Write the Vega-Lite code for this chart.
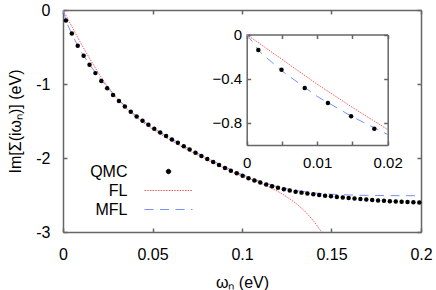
{
  "$schema": "https://vega.github.io/schema/vega-lite/v6.json",
  "width": 358,
  "height": 222,
  "autosize": "none",
  "padding": {"left": 63, "top": 10, "right": 15, "bottom": 58},
  "config": {
    "font": "Liberation Sans",
    "view": {"stroke": null},
    "axis": {
      "grid": false,
      "domainColor": "#666666",
      "domainWidth": 1.5,
      "tickColor": "#666666",
      "tickWidth": 1.5,
      "tickSize": -4,
      "labelFontSize": 16,
      "labelColor": "#000000",
      "titleFontSize": 16,
      "titleFontWeight": "normal",
      "titleColor": "#000000",
      "labelFlush": false,
      "labelOverlap": false
    }
  },
  "datasets": {
    "qmc": [
      {"w": 0.00165, "v": -0.141}, {"w": 0.00494, "v": -0.319}, {"w": 0.00823, "v": -0.484},
      {"w": 0.01152, "v": -0.619}, {"w": 0.01481, "v": -0.739}, {"w": 0.0181, "v": -0.853},
      {"w": 0.02139, "v": -0.96}, {"w": 0.02468, "v": -1.058}, {"w": 0.02797, "v": -1.148},
      {"w": 0.03126, "v": -1.23}, {"w": 0.03455, "v": -1.305}, {"w": 0.03784, "v": -1.374},
      {"w": 0.04113, "v": -1.438}, {"w": 0.04442, "v": -1.497}, {"w": 0.04771, "v": -1.552},
      {"w": 0.051, "v": -1.604}, {"w": 0.05429, "v": -1.654}, {"w": 0.05758, "v": -1.702},
      {"w": 0.06087, "v": -1.749}, {"w": 0.06416, "v": -1.795}, {"w": 0.06745, "v": -1.84},
      {"w": 0.07074, "v": -1.885}, {"w": 0.07403, "v": -1.929}, {"w": 0.07732, "v": -1.972},
      {"w": 0.08061, "v": -2.014}, {"w": 0.0839, "v": -2.055}, {"w": 0.08719, "v": -2.095},
      {"w": 0.09048, "v": -2.134}, {"w": 0.09377, "v": -2.171}, {"w": 0.09706, "v": -2.207},
      {"w": 0.10035, "v": -2.241}, {"w": 0.10364, "v": -2.273}, {"w": 0.10693, "v": -2.303},
      {"w": 0.11022, "v": -2.331}, {"w": 0.11351, "v": -2.357}, {"w": 0.1168, "v": -2.381},
      {"w": 0.12009, "v": -2.403}, {"w": 0.12338, "v": -2.423}, {"w": 0.12667, "v": -2.44},
      {"w": 0.12996, "v": -2.455}, {"w": 0.13325, "v": -2.468}, {"w": 0.13654, "v": -2.48},
      {"w": 0.13983, "v": -2.491}, {"w": 0.14312, "v": -2.501}, {"w": 0.14641, "v": -2.51},
      {"w": 0.1497, "v": -2.518}, {"w": 0.15299, "v": -2.526}, {"w": 0.15628, "v": -2.534},
      {"w": 0.15957, "v": -2.541}, {"w": 0.16286, "v": -2.548}, {"w": 0.16615, "v": -2.555},
      {"w": 0.16944, "v": -2.561}, {"w": 0.17273, "v": -2.567}, {"w": 0.17602, "v": -2.573},
      {"w": 0.17931, "v": -2.578}, {"w": 0.1826, "v": -2.583}, {"w": 0.18589, "v": -2.587},
      {"w": 0.18918, "v": -2.591}, {"w": 0.19247, "v": -2.595}, {"w": 0.19576, "v": -2.598},
      {"w": 0.19905, "v": -2.601}
    ],
    "fl": [
      {"w": 0, "v": 0}, {"w": 0.005, "v": -0.225}, {"w": 0.01, "v": -0.45}, {"w": 0.015, "v": -0.66},
      {"w": 0.02, "v": -0.86}, {"w": 0.025, "v": -1.035}, {"w": 0.03, "v": -1.19}, {"w": 0.035, "v": -1.32},
      {"w": 0.04, "v": -1.43}, {"w": 0.045, "v": -1.525}, {"w": 0.05, "v": -1.61}, {"w": 0.06, "v": -1.76},
      {"w": 0.07, "v": -1.895}, {"w": 0.08, "v": -2.02}, {"w": 0.09, "v": -2.135}, {"w": 0.1, "v": -2.245},
      {"w": 0.105, "v": -2.29}, {"w": 0.11, "v": -2.335}, {"w": 0.115, "v": -2.39}, {"w": 0.12, "v": -2.45},
      {"w": 0.125, "v": -2.525}, {"w": 0.13, "v": -2.61}, {"w": 0.135, "v": -2.715}, {"w": 0.14, "v": -2.85},
      {"w": 0.145, "v": -3.02}
    ],
    "mfl": [
      {"w": 0, "v": 0}, {"w": 0.002, "v": -0.165}, {"w": 0.005, "v": -0.33}, {"w": 0.01, "v": -0.56},
      {"w": 0.015, "v": -0.745}, {"w": 0.02, "v": -0.905}, {"w": 0.03, "v": -1.19}, {"w": 0.04, "v": -1.415},
      {"w": 0.05, "v": -1.59}, {"w": 0.06, "v": -1.735}, {"w": 0.07, "v": -1.87}, {"w": 0.08, "v": -1.995},
      {"w": 0.09, "v": -2.115}, {"w": 0.1, "v": -2.225}, {"w": 0.11, "v": -2.315}, {"w": 0.12, "v": -2.39},
      {"w": 0.13, "v": -2.44}, {"w": 0.14, "v": -2.472}, {"w": 0.15, "v": -2.49}, {"w": 0.16, "v": -2.5},
      {"w": 0.17, "v": -2.505}, {"w": 0.18, "v": -2.508}, {"w": 0.19, "v": -2.509}, {"w": 0.2, "v": -2.51}
    ]
  },
  "layer": [
    {
      "layer": [
        {
          "data": {"name": "fl"},
          "mark": {"type": "line", "clip": true, "strokeWidth": 1, "strokeDash": [1.5, 1.2]},
          "encoding": {
            "x": {"field": "w", "type": "quantitative", "scale": {"domain": [0, 0.2], "nice": false},
              "axis": {"orient": "bottom", "values": [0, 0.05, 0.1, 0.15, 0.2], "format": "~g", "labelPadding": 18,
                "title": "ωₙ (eV)", "titleY": 50, "titleBaseline": "middle"}},
            "y": {"field": "v", "type": "quantitative", "scale": {"domain": [-3, 0], "nice": false},
              "axis": {"orient": "left", "values": [0, -1, -2, -3],
                "labelExpr": "datum.value < 0 ? '-' + abs(datum.value) : '' + datum.value",
                "labelPadding": 17, "title": "Im[Σ(iωₙ)] (eV)", "titleX": -48, "titleY": 111,
                "titleBaseline": "middle", "titleAngle": -90, "titleAlign": "center"}},
            "color": {"datum": "FL", "type": "nominal",
              "scale": {"domain": ["QMC", "FL", "MFL"], "range": ["#000000", "#ff5555", "#7790ff"]},
              "legend": {"title": null, "orient": "none", "legendX": 97.5, "legendY": 153.5, "padding": 0,
                "labelFontSize": 16, "labelAlign": "right", "labelOffset": -49, "labelColor": "#000000",
                "symbolSize": 100, "rowPadding": 3, "symbolStrokeWidth": 1,
                "encode": {"symbols": {"update": {
                  "shape": {"signal": "datum.value === 'QMC' ? 'circle' : 'M-4.8,0H4.8'"},
                  "size": {"signal": "datum.value === 'QMC' ? 20 : 100"},
                  "fill": {"signal": "datum.value === 'QMC' ? '#000000' : 'transparent'"},
                  "stroke": {"signal": "datum.value === 'QMC' ? 'transparent' : (datum.value === 'FL' ? '#ff5555' : '#7790ff')"},
                  "strokeDash": {"signal": "datum.value === 'FL' ? [1.5, 1.2] : (datum.value === 'MFL' ? [9, 6.5] : [1, 0])"},
                  "strokeWidth": {"value": 1}
                }}}}}
          }
        },
        {
          "data": {"name": "mfl"},
          "mark": {"type": "line", "clip": true, "strokeWidth": 1, "strokeDash": [9, 6.5]},
          "encoding": {
            "x": {"field": "w", "type": "quantitative",
              "axis": {"orient": "top", "values": [0, 0.05, 0.1, 0.15, 0.2], "labels": false, "title": null}},
            "y": {"field": "v", "type": "quantitative",
              "axis": {"orient": "right", "values": [0, -1, -2, -3], "labels": false, "title": null}},
            "color": {"datum": "MFL", "type": "nominal"}
          }
        },
        {
          "data": {"name": "qmc"},
          "mark": {"type": "circle", "size": 20, "opacity": 1},
          "encoding": {
            "x": {"field": "w", "type": "quantitative", "axis": null},
            "y": {"field": "v", "type": "quantitative", "axis": null},
            "color": {"datum": "QMC", "type": "nominal"}
          }
        }
      ],
      "resolve": {"axis": {"x": "independent", "y": "independent"}}
    },
    {
      "layer": [
        {
          "data": {"name": "fl"},
          "transform": [{"filter": "datum.w <= 0.0201"}],
          "mark": {"type": "line", "strokeWidth": 1, "strokeDash": [1.5, 1.2]},
          "encoding": {
            "x": {"field": "w", "type": "quantitative", "scale": {"domain": [0, 0.02], "range": [183.7, 324.7], "nice": false},
              "axis": {"orient": "bottom", "offset": -87, "values": [0, 0.005, 0.01, 0.015, 0.02],
                "labelExpr": "indexof([0, 0.01, 0.02], datum.value) >= 0 ? format(datum.value, '~g') : ''",
                "labelFontSize": 15, "labelPadding": 14, "title": null}},
            "y": {"field": "v", "type": "quantitative", "scale": {"domain": [-1, 0], "range": [135, 24.5], "nice": false},
              "axis": {"orient": "left", "offset": -183.7, "values": [0, -0.4, -0.8], "format": "~g",
                "labelFontSize": 15, "labelPadding": 9, "title": null}},
            "color": {"datum": "FL", "type": "nominal"}
          }
        },
        {
          "data": {"name": "mfl"},
          "transform": [{"filter": "datum.w <= 0.0201"}],
          "mark": {"type": "line", "strokeWidth": 1, "strokeDash": [9, 6.5]},
          "encoding": {
            "x": {"field": "w", "type": "quantitative",
              "axis": {"orient": "top", "offset": -24.5, "values": [0, 0.005, 0.01, 0.015, 0.02], "labels": false, "title": null}},
            "y": {"field": "v", "type": "quantitative",
              "axis": {"orient": "right", "offset": -33.3, "values": [0, -0.4, -0.8], "labels": false, "title": null}},
            "color": {"datum": "MFL", "type": "nominal"}
          }
        },
        {
          "data": {"name": "qmc"},
          "transform": [{"filter": "datum.w <= 0.0201"}],
          "mark": {"type": "circle", "size": 20, "opacity": 1},
          "encoding": {
            "x": {"field": "w", "type": "quantitative", "axis": null},
            "y": {"field": "v", "type": "quantitative", "axis": null},
            "color": {"datum": "QMC", "type": "nominal"}
          }
        }
      ],
      "resolve": {"axis": {"x": "independent", "y": "independent"}}
    }
  ],
  "resolve": {"scale": {"x": "independent", "y": "independent"}}
}
